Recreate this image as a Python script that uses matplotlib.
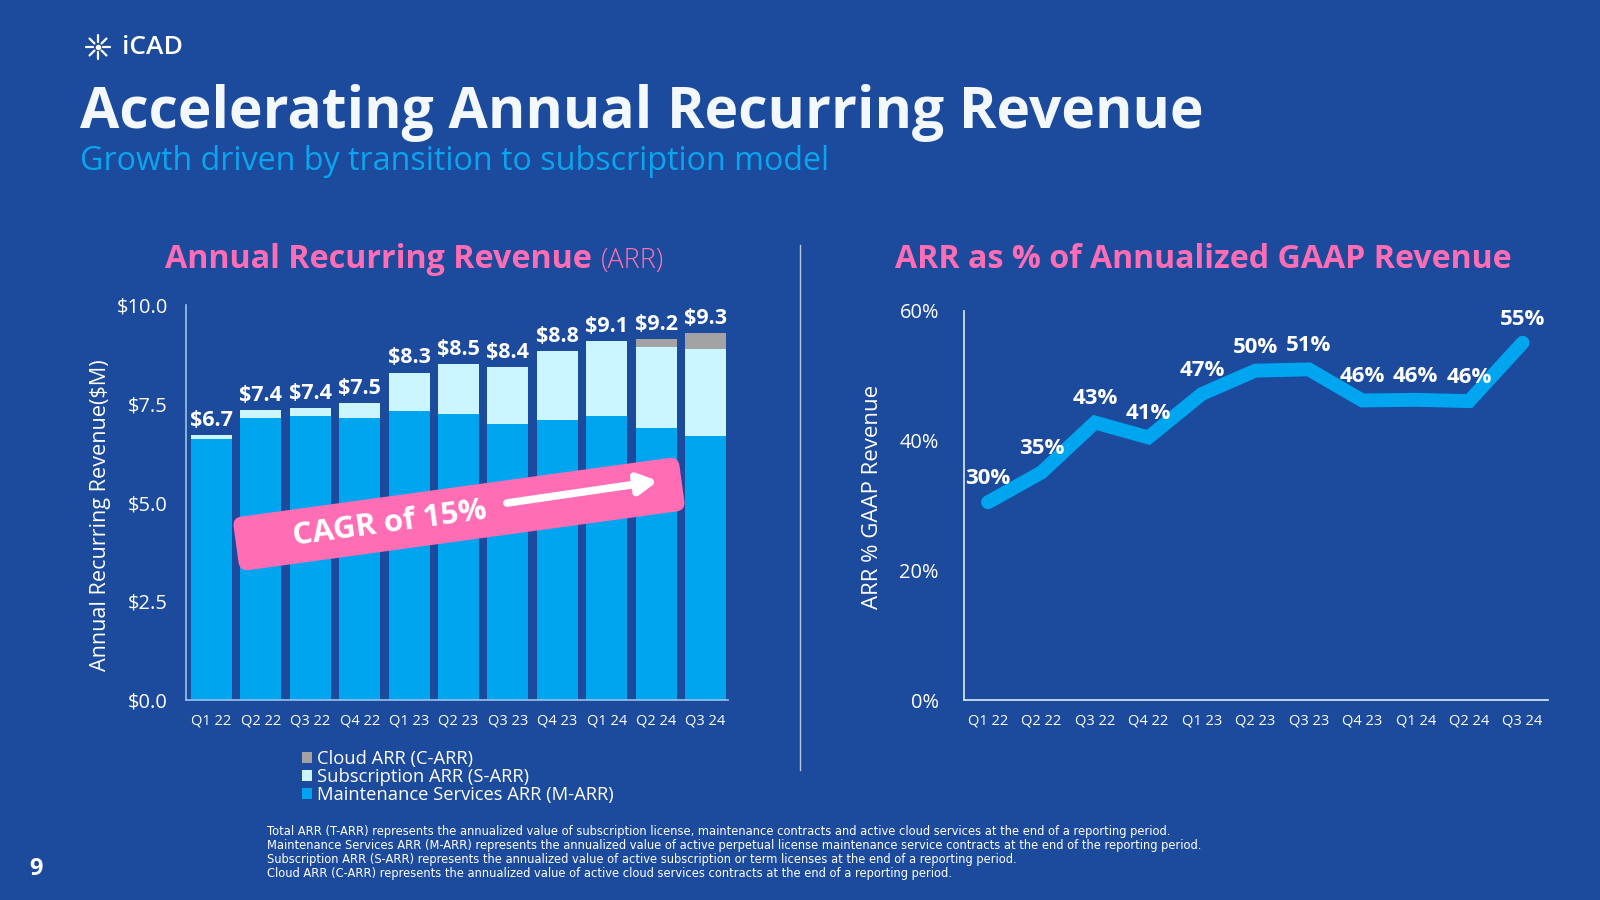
import matplotlib.pyplot as plt
from matplotlib.patches import FancyBboxPatch
from matplotlib.transforms import Affine2D
from matplotlib.lines import Line2D

quarters = ['Q1 22', 'Q2 22', 'Q3 22', 'Q4 22', 'Q1 23', 'Q2 23', 'Q3 23',
            'Q4 23', 'Q1 24', 'Q2 24', 'Q3 24']
m_arr = [6.62, 7.15, 7.18, 7.15, 7.31, 7.24, 6.98, 7.10, 7.19, 6.89, 6.69]
s_arr = [0.08, 0.20, 0.22, 0.36, 0.98, 1.27, 1.44, 1.73, 1.90, 2.04, 2.19]
c_arr = [0, 0, 0, 0, 0, 0, 0, 0, 0, 0.21, 0.41]
total_labels = ['$6.7', '$7.4', '$7.4', '$7.5', '$8.3', '$8.5', '$8.4',
                '$8.8', '$9.1', '$9.2', '$9.3']
pct_gaap = [30.5, 35.1, 42.8, 40.5, 47.2, 50.8, 51.0, 46.2, 46.3, 46.1, 55.1]
pct_labels = ['30%', '35%', '43%', '41%', '47%', '50%', '51%', '46%', '46%', '46%', '55%']
y_ticks_arr = [0, 2.5, 5, 7.5, 10]
y_ticks_pct = [0, 20, 40, 60]

BG = '#1C4A9C'
BLUE = '#00A5EF'
LIGHT = '#CCF6FF'
GREY = '#A3A3A3'
PINK = '#FF6EB4'
SUB = '#0AA5F0'
AXIS = '#9CC3EA'

plt.rcParams['font.family'] = ['Open Sans', 'DejaVu Sans']

fig = plt.figure(figsize=(16, 9), dpi=100)
fig.patch.set_facecolor(BG)


def fx(px):
    return px / 1600


def fy(py):
    return 1 - py / 900


# header
fig.text(fx(122), fy(48), 'iCAD', color='white', fontsize=19, fontweight='semibold',
         va='center', ha='left')
fig.text(fx(80), fy(113), 'Accelerating Annual Recurring Revenue', color='#F2F8FC',
         fontsize=41, fontweight='bold', va='center', ha='left')
fig.text(fx(80), fy(162), 'Growth driven by transition to subscription model',
         color=SUB, fontsize=23.2, va='center', ha='left')

# chart titles
t1 = fig.text(fx(165), fy(260), 'Annual Recurring Revenue', color=PINK, fontsize=23.2,
              fontweight='bold', va='center', ha='left')
fig.text(fx(895), fy(260), 'ARR as % of Annualized GAAP Revenue', color=PINK,
         fontsize=23.1, fontweight='bold', va='center', ha='left')

# divider
fig.add_artist(Line2D([fx(800), fx(800)], [fy(245), fy(770)], color='#B8C8E0',
                      lw=1, transform=fig.transFigure))

# ---- left: stacked bars ----
ax = fig.add_axes([fx(186), fy(700), fx(728 - 186), (700 - 305) / 900])
ax.set_facecolor(BG)
x = list(range(len(quarters)))
bw = 0.83
b1 = ax.bar(x, m_arr, bw, color=BLUE, label='Maintenance Services ARR (M-ARR)')
b2 = ax.bar(x, s_arr, bw, bottom=m_arr, color=LIGHT, label='Subscription ARR (S-ARR)')
bottoms = [m + s for m, s in zip(m_arr, s_arr)]
b3 = ax.bar(x, c_arr, bw, bottom=bottoms, color=GREY, label='Cloud ARR (C-ARR)')
for i, lab in enumerate(total_labels):
    top = m_arr[i] + s_arr[i] + c_arr[i]
    ax.annotate(lab, (i, top), xytext=(0, 3), textcoords='offset points',
                ha='center', va='bottom', color='white', fontsize=15.5, fontweight='bold')
ax.set_xlim(-0.516, 10.455)
ax.set_ylim(0, 10)
ax.set_yticks(y_ticks_arr)
ax.set_yticklabels([f'${v:.1f}' for v in y_ticks_arr])
ax.set_xticks(x)
ax.set_xticklabels(quarters)
ax.tick_params(axis='y', length=0, pad=13, labelsize=14.4, colors='white')
ax.tick_params(axis='x', length=0, pad=10, labelsize=10.5, colors='white')
for s in ['top', 'right']:
    ax.spines[s].set_visible(False)
for s in ['left', 'bottom']:
    ax.spines[s].set_color(AXIS)
    ax.spines[s].set_linewidth(1.2)
fig.text(fx(101), fy(515), 'Annual Recurring Revenue($M)', color='white', fontsize=15.6,
         rotation=90, ha='center', va='center')

fig.legend(handles=[b3, b2, b1], loc='upper left',
           bbox_to_anchor=(fx(293), fy(741)), frameon=False, fontsize=13.2,
           labelcolor='white', handlelength=0.55, handleheight=0.55,
           handletextpad=0.25, labelspacing=0.0, borderpad=0)

# ---- right: line ----
ax2 = fig.add_axes([fx(964), fy(700), fx(1548 - 964), (700 - 311) / 900])
ax2.set_facecolor(BG)
ax2.plot(x, pct_gaap, color=BLUE, lw=10, solid_capstyle='round', solid_joinstyle='miter')
for i, lab in enumerate(pct_labels):
    ax2.annotate(lab, (i, pct_gaap[i]), xytext=(0, 17), textcoords='offset points',
                 ha='center', va='center', color='white', fontsize=16, fontweight='bold')
ax2.set_xlim(-0.449, 10.475)
ax2.set_ylim(0, 60)
ax2.set_yticks(y_ticks_pct)
ax2.set_yticklabels([f'{v}%' for v in y_ticks_pct])
ax2.set_xticks(x)
ax2.set_xticklabels(quarters)
ax2.tick_params(axis='y', length=0, pad=18, labelsize=14.4, colors='white')
ax2.tick_params(axis='x', length=0, pad=10, labelsize=10.5, colors='white')
for s in ['top', 'right']:
    ax2.spines[s].set_visible(False)
for s in ['left', 'bottom']:
    ax2.spines[s].set_color('#DDEBF7')
    ax2.spines[s].set_linewidth(1.2)
fig.text(fx(873), fy(497), 'ARR % GAAP Revenue', color='white', fontsize=16,
         rotation=90, ha='center', va='center')

# footnotes
notes = [
    'Total ARR (T-ARR) represents the annualized value of subscription license, maintenance contracts and active cloud services at the end of a reporting period.',
    'Maintenance Services ARR (M-ARR) represents the annualized value of active perpetual license maintenance service contracts at the end of the reporting period.',
    'Subscription ARR (S-ARR) represents the annualized value of active subscription or term licenses at the end of a reporting period.',
    'Cloud ARR (C-ARR) represents the annualized value of active cloud services contracts at the end of a reporting period.',
]
for k, line in enumerate(notes):
    fig.text(fx(267), fy(831 + 14.3 * k), line, color='white', fontsize=8.3,
             family=['Liberation Sans Narrow', 'DejaVu Sans'], va='center', ha='left')
fig.text(fx(36), fy(869), '9', color='white', fontsize=17, fontweight='bold',
         ha='center', va='center')

# overlay for logo mark, CAGR callout and the "(ARR)" tag
ov = fig.add_axes([0, 0, 1, 1])
ov.set_xlim(0, 1600)
ov.set_ylim(0, 900)
ov.axis('off')
ov.patch.set_alpha(0)

cx, cy = 98, 900 - 47
for ang in range(0, 360, 45):
    t = Affine2D().rotate_deg_around(cx, cy, ang)
    ov.plot([cx + 5, cx + 12], [cy, cy], color='white', lw=1.6, transform=t + ov.transData,
            solid_capstyle='round')
ov.plot([cx], [cy], 'o', color='white', ms=3)

ang = 7.8
ccx, ccy = 459, 900 - 514
rot = Affine2D().rotate_deg_around(ccx, ccy, ang) + ov.transData
box = FancyBboxPatch((ccx - 225, ccy - 27), 450, 54,
                     boxstyle='round,pad=0,rounding_size=9', fc=PINK, ec='none',
                     transform=rot)
ov.add_patch(box)
ov.text(390, 900 - 524, 'CAGR of 15%', color='white', fontsize=22.5, fontweight='bold',
        rotation=ang, ha='center', va='center', rotation_mode='anchor')
ov.annotate('', xy=(658, 900 - 481), xytext=(507, 900 - 503),
            arrowprops=dict(arrowstyle='-|>,head_length=1.1,head_width=0.6',
                            color='white', lw=5.5, shrinkA=0, shrinkB=0))

fig.canvas.draw()
bb = t1.get_window_extent()
ov.text(bb.x1 + 9, 900 - 261, '(ARR)', color=PINK, fontsize=19.5, fontweight='light',
        va='center', ha='left')

fig.savefig('out.png', dpi=100, facecolor=BG)
